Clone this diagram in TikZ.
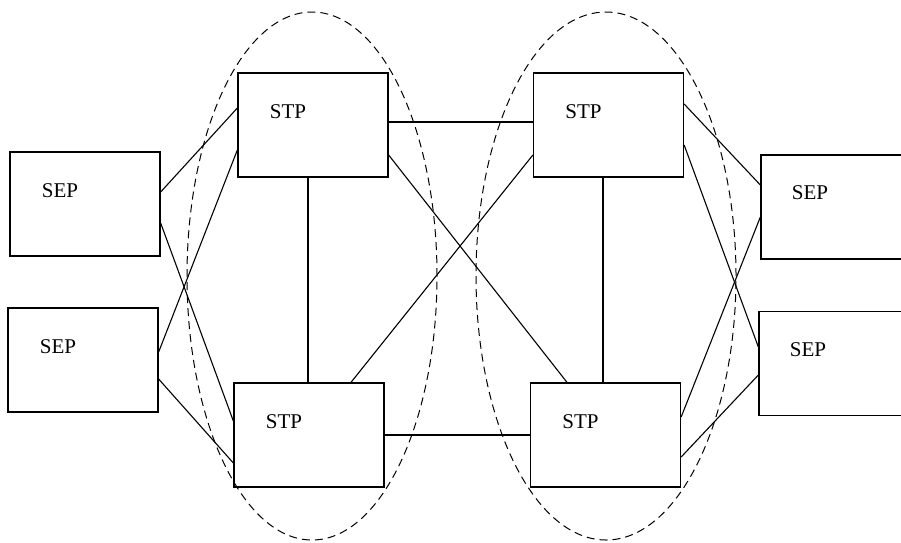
\documentclass[tikz,border=0pt]{standalone}
\usepackage{fontspec}
\setmainfont{Liberation Serif}
\tikzset{
  unit/.style={draw,line width=1.3pt,minimum width=150pt,minimum height=104pt,inner sep=0pt},
  tag/.style={inner sep=0pt,font=\fontsize{21}{24}\selectfont},
  link/.style={line width=1.1pt},
  zone/.style={line width=1pt,dash pattern=on 8pt off 5pt}
}
\begin{document}
\begin{tikzpicture}[x=1pt,y=-1pt]
        \clip (0,0) rectangle (901,542);
        % zones
        \draw[zone] (312,276) ellipse [x radius=125pt,y radius=264pt];
        \draw[zone] (606,276) ellipse [x radius=130pt,y radius=264pt];
        % boxes
        \node[unit] (sepLT) at (85,204) {};
        \node[unit] (sepLB) at (83,360) {};
        \node[unit] (stpLT) at (313,125) {};
        \node[unit] (stpLB) at (309,435) {};
        \node[unit] (stpRT) at (608.5,125) {};
        \node[unit] (stpRB) at (605.5,435) {};
        \node[unit] (sepRT) at (836,207) {};
        \node[unit] (sepRB) at (834,363.5) {};
        \node[tag] (tSepLT) at ([shift={(-25pt,13pt)}]sepLT.center) {SEP};
        \node[tag] (tSepLB) at ([shift={(-25pt,13pt)}]sepLB.center) {SEP};
        \node[tag] (tStpLT) at ([shift={(-25pt,13pt)}]stpLT.center) {STP};
        \node[tag] (tStpLB) at ([shift={(-25pt,13pt)}]stpLB.center) {STP};
        \node[tag] (tStpRT) at ([shift={(-25pt,13pt)}]stpRT.center) {STP};
        \node[tag] (tStpRB) at ([shift={(-25pt,13pt)}]stpRB.center) {STP};
        \node[tag] (tSepRT) at ([shift={(-26pt,14pt)}]sepRT.center) {SEP};
        \node[tag] (tSepRB) at ([shift={(-26pt,14pt)}]sepRB.center) {SEP};
        % links
        \draw[link] ([yshift=12pt]sepLT.east) -- ([yshift=17pt]stpLT.west);
        \draw[link] ([yshift=-19pt]sepLT.east) -- ([yshift=14pt]stpLB.west);
        \draw[link] ([yshift=8pt]sepLB.east) -- ([yshift=-25pt]stpLT.west);
        \draw[link] ([yshift=-19pt]sepLB.east) -- ([yshift=-28pt]stpLB.west);
        \draw[link] ([yshift=3pt]stpLT.east) -- ([yshift=3pt]stpRT.west);
        \draw[link] ([xshift=-5pt]stpLT.south) -- ([xshift=-1pt]stpLB.north);
        \draw[link] ([yshift=-30pt]stpLT.east) -- ([xshift=-38.5pt]stpRB.north);
        \draw[link] ([xshift=42pt]stpLB.north) -- ([yshift=-30pt]stpRT.west);
        \draw[link] (stpLB.east) -- (stpRB.west);
        \draw[link] ([xshift=-5.5pt]stpRT.south) -- ([xshift=-2.5pt]stpRB.north);
        \draw[link] ([yshift=21pt]stpRT.east) -- ([yshift=22pt]sepRT.west);
        \draw[link] ([yshift=-20pt]stpRT.east) -- ([yshift=16.5pt]sepRB.west);
        \draw[link] ([yshift=18pt]stpRB.east) -- ([yshift=-10pt]sepRT.west);
        \draw[link] ([yshift=-22pt]stpRB.east) -- ([yshift=-11.5pt]sepRB.west);
      \end{tikzpicture}
\end{document}
